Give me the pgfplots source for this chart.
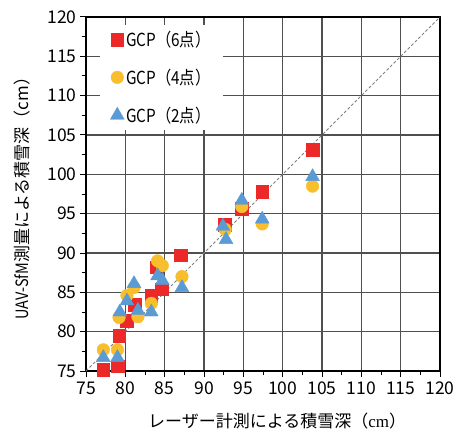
\documentclass[border=0pt]{standalone}
\usepackage{fontspec}
\setmainfont{Noto Sans CJK JP}
\newfontfamily\narrowjp[FakeStretch=0.85]{Noto Sans CJK JP}
\newfontfamily\serifcm{Liberation Serif}
\usepackage{pgfplots}
\pgfplotsset{compat=1.18}
\usetikzlibrary{calc}
\definecolor{gcpRed}{RGB}{236,40,40}
\definecolor{gcpYellow}{RGB}{248,190,44}
\definecolor{gcpBlue}{RGB}{91,155,213}
\definecolor{gridGray}{RGB}{80,80,80}

\begin{document}
\begin{tikzpicture}
\begin{axis}[
    name=ax,
    scale only axis,
    width=354pt,
    height=354pt,
    xmin=75, xmax=120,
    ymin=75, ymax=120,
    xtick={75,80,...,120},
    ytick={75,80,...,120},
    minor tick num=1,
    tick align=outside,
    major tick length=6pt,
    minor tick length=4pt,
    tick pos=left,
    grid=major,
    grid style={draw=gridGray, line width=1.2pt},
    axis line style={black, line width=1.4pt},
    tick style={black, line width=1pt},
    /pgf/number format/assume math mode=true,
    tick label style={font=\fontsize{17.5}{18}\selectfont},
    xticklabel style={yshift=-1pt},
    label style={font=\fontsize{17}{18}\selectfont},
    xlabel={レーザー計測による積雪深（{\serifcm cm}）},
    ylabel={{\narrowjp UAV-SfM}測量による積雪深（cm）},
    xlabel style={at={(axis description cs:0.54,0)}, anchor=center, yshift=-50pt},
    ylabel style={at={(axis description cs:0,0.5)}, anchor=center, yshift=64pt},
    legend style={
        at={(0.04,0.978)}, anchor=north west,
        draw=none, fill=white,
        font=\narrowjp\fontsize{18}{19}\selectfont,
        row sep=17pt,
        inner xsep=10pt, inner ysep=4pt,
        cells={anchor=west},
        /tikz/every even column/.append style={column sep=0pt},
    },
    legend image code/.code={\draw[#1] plot coordinates {(0.15cm,0cm)};},
    clip=false,
]
\addplot[gray, densely dashed, line width=0.8pt, forget plot] coordinates {(75,75) (120,120)};

\addplot[only marks, mark=square*, mark size=6.3pt,
    mark options={fill=gcpRed, draw=gcpRed}] coordinates {
    (77.2,75.2) (79.0,75.6) (79.2,79.5) (80.2,81.4) (81.2,83.4)
    (83.3,84.6) (84.6,85.4) (84.0,88.2) (87.0,89.7) (92.6,93.6)
    (94.8,95.6) (97.4,97.8) (103.8,103.1)
};
\addlegendentry{GCP（6点）}

\addplot[only marks, mark=*, mark size=6.3pt,
    mark options={fill=gcpYellow, draw=gcpYellow}] coordinates {
    (77.2,77.7) (79.0,77.7) (79.2,81.8) (80.2,84.6) (81.1,85.6)
    (81.6,81.9) (83.3,83.6) (84.1,89.0) (84.7,88.4) (87.2,87.0)
    (92.7,93.0) (94.8,95.9) (97.4,93.7) (103.8,98.5)
};
\addlegendentry{GCP（4点）}

\addplot[only marks, mark=triangle*, mark size=8pt,
    mark options={fill=gcpBlue, draw=gcpBlue}] coordinates {
    (77.2,76.7) (79.0,76.7) (79.3,82.5) (80.2,83.9) (81.1,86.1)
    (81.6,82.7) (83.3,82.5) (84.1,87.1) (84.7,86.5) (87.2,85.6)
    (92.4,93.4) (92.8,91.7) (94.8,96.7) (97.4,94.3) (103.8,99.7)
};
\addlegendentry{GCP（2点）}
\end{axis}
\pgfresetboundingbox
\path[use as bounding box] ($(ax.south west)+(-86pt,-61pt)$) rectangle ($(ax.north east)+(20pt,17pt)$);
\end{tikzpicture}
\end{document}
